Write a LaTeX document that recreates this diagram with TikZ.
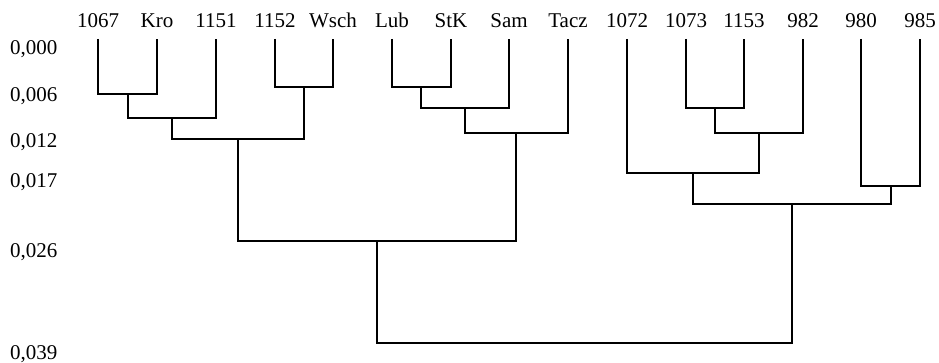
\documentclass[tikz,border=0pt]{standalone}
\usepackage{fontspec}
\setmainfont{Liberation Serif}
\begin{document}
\begin{tikzpicture}[x=1pt,y=-1pt,
  leaf/.style={anchor=base,inner sep=0pt,font=\fontsize{21}{22}\selectfont},
  axl/.style={anchor=base west,inner sep=0pt,font=\fontsize{21}{22}\selectfont},
  branch/.style={line width=2pt,line join=miter}]
\useasboundingbox (0,0) rectangle (939,363);
% leaf labels
\foreach \n/\x/\t in {a/98/1067,b/157/Kro,c/216/1151,d/275/1152,e/333/Wsch,
  f/392/Lub,g/451/StK,h/509/Sam,i/568/Tacz,j/627/1072,k/686/1073,
  l/744/1153,m/803/982,n/861/980,o/920/985}{
  \node[leaf] (L\n) at (\x,28) {\t};
  \coordinate (\n) at (\x,39);
}
% axis labels
\node[axl] (y0) at (10,55) {0,000};
\node[axl] (y1) at (10,101.5) {0,006};
\node[axl] (y2) at (10,148) {0,012};
\node[axl] (y3) at (10,188) {0,017};
\node[axl] (y4) at (10,258) {0,026};
\node[axl] (y5) at (10,359.5) {0,039};
% merge points
\coordinate (ab) at (128,94);
\coordinate (abc) at (172,118);
\coordinate (de) at (304,87);
\coordinate (ae) at (238,139);
\coordinate (fg) at (421,87);
\coordinate (fh) at (465,108);
\coordinate (fi) at (516,133);
\coordinate (ai) at (377,241);
\coordinate (kl) at (715,108);
\coordinate (km) at (759,133);
\coordinate (jm) at (693,173);
\coordinate (no) at (891,186);
\coordinate (jo) at (792,204);
\coordinate (root) at (584,343);
% branches
\draw[branch] (a) |- (ab) -| (b);
\draw[branch] (ab) |- (abc) -| (c);
\draw[branch] (d) |- (de) -| (e);
\draw[branch] (abc) |- (ae) -| (de);
\draw[branch] (f) |- (fg) -| (g);
\draw[branch] (fg) |- (fh) -| (h);
\draw[branch] (fh) |- (fi) -| (i);
\draw[branch] (ae) |- (ai) -| (fi);
\draw[branch] (k) |- (kl) -| (l);
\draw[branch] (kl) |- (km) -| (m);
\draw[branch] (j) |- (jm) -| (km);
\draw[branch] (n) |- (no) -| (o);
\draw[branch] (jm) |- (jo) -| (no);
\draw[branch] (ai) |- (root) -| (jo);
\end{tikzpicture}
\end{document}
